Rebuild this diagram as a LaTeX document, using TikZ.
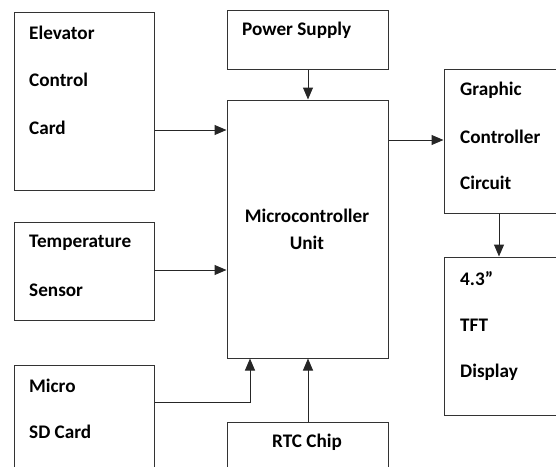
\documentclass[tikz,border=0pt]{standalone}
\usepackage{fontspec}
\setmainfont{Carlito}
\usetikzlibrary{arrows.meta,calc}

\begin{document}
\begin{tikzpicture}[x=1pt,y=-1pt,
blk/.style={draw=black!80,line width=1pt,inner sep=0pt},
txt/.style={anchor=west,inner sep=0pt,font=\fontsize{19.2}{21}\selectfont\bfseries},
ctxt/.style={txt,anchor=center},
arr/.style={draw=black!85,line width=1pt,-{Triangle[length=12pt,width=10pt]}}]
\useasboundingbox(0,0)rectangle(556,466);
\node[blk,minimum width=140,minimum height=178](ecc)at(84,101){};\node[blk,minimum width=161,minimum height=59](psu)at(307.5,39.5){};
\node[blk,minimum width=161,minimum height=258](mcu)at(307.5,229){};\node[blk,minimum width=116,minimum height=144](gcc)at(502,141){};
\node[blk,minimum width=140,minimum height=98](tmp)at(84,271){};\node[blk,minimum width=116,minimum height=158](tft)at(502,336){};
\node[blk,minimum width=140,minimum height=105](sdc)at(84,417.5){};\node[blk,minimum width=161,minimum height=48](rtc)at(307.5,446){};
\node[txt](ecc1)at(29,33){Elevator};\node[txt](ecc2)at(29,80){Control};\node[txt](ecc3)at(29,128){Card};
\node[txt](psu1)at(242,30){Power Supply};
\node[ctxt](mcu1)at(307,216){Microcontroller};\node[ctxt](mcu2)at(307,243){Unit};
\node[txt](gcc1)at(460,90){Graphic};\node[txt](gcc2)at(460,137){Controller};\node[txt](gcc3)at(460,183){Circuit};
\node[txt](tmp1)at(29,243){Temperature};\node[txt](tmp2)at(29,290){Sensor};
\node[txt](tft1)at(460,279){4.3”};\node[txt](tft2)at(460,325){TFT};\node[txt](tft3)at(460,372){Display};
\node[txt](sdc1)at(29,386){Micro};\node[txt](sdc2)at(29,432){SD Card};
\node[ctxt](rtc1)at(307,442){RTC Chip};
\draw[arr]([xshift=.5pt]psu.south)--([xshift=.5pt]mcu.north);
\draw[arr]([yshift=-29pt]ecc.east)coordinate(e1)--(e1-|mcu.west);\draw[arr]([yshift=1pt]tmp.east)coordinate(t1)--(t1-|mcu.west);
\draw[arr]([yshift=89pt]mcu.east)coordinate(m1)--(m1-|gcc.west);\draw[arr]([xshift=-3pt]gcc.south)--([xshift=-3pt]tft.north);
\coordinate(m2)at([xshift=-57.5pt]mcu.south);\draw[arr]([yshift=15.5pt]sdc.east)coordinate(s1)--(s1-|m2)--(m2);
\draw[arr]([xshift=.5pt]rtc.north)--([xshift=.5pt]mcu.south);
\end{tikzpicture}
\end{document}
